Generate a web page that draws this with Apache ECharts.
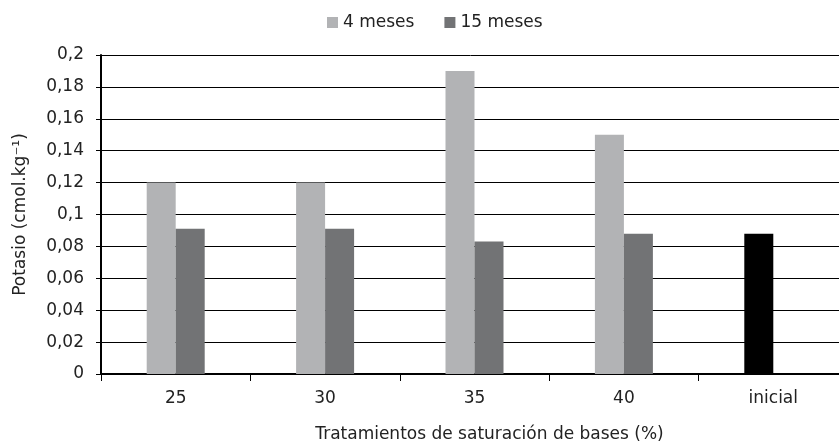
<!DOCTYPE html>
<html><head><meta charset="utf-8">
<script src="https://cdn.jsdelivr.net/npm/echarts@6/dist/echarts.min.js"></script>
<style>html,body{margin:0;padding:0;background:#fff}#c{width:839px;height:446px}</style>
</head><body><div id="c"></div>
<script>
var categories = ['25', '30', '35', '40', 'inicial'];
var meses4 = [0.12, 0.12, 0.19, 0.15, 0.088];
var meses15 = [0.091, 0.091, 0.083, 0.088, null];
var yTicks = [0, 0.02, 0.04, 0.06, 0.08, 0.1, 0.12, 0.14, 0.16, 0.18, 0.2];
var inicialIndex = 4;

var FONT = 'DejaVu Sans';
var chart = echarts.init(document.getElementById('c'), null, {renderer: 'canvas'});
chart.setOption({
  animation: false,
  textStyle: {fontFamily: FONT},
  legend: {
    left: 322, top: 9, itemWidth: 11, itemHeight: 11, itemGap: 30,
    textStyle: {fontSize: 17, color: '#222', fontFamily: FONT},
    data: [{name: '4 meses', icon: 'rect'}, {name: '15 meses', icon: 'rect'}]
  },
  grid: {left: 101, top: 55, width: 747, bottom: 72, containLabel: false, outerBoundsMode: 'none'},
  xAxis: {
    type: 'category', data: categories,
    axisLine: {lineStyle: {color: '#000', width: 2}},
    axisTick: {show: true, length: 7, lineStyle: {color: '#000', width: 1}},
    axisLabel: {fontSize: 17, color: '#222', margin: 16, fontFamily: FONT},
    name: 'Tratamientos de saturación de bases (%)',
    nameLocation: 'middle', nameGap: 52,
    nameTextStyle: {fontSize: 17, color: '#222', fontFamily: FONT, padding: [0, 0, 0, 30]}
  },
  yAxis: {
    type: 'value', min: 0, max: 0.2, interval: 0.02,
    axisLine: {show: true, lineStyle: {color: '#000', width: 2}},
    axisTick: {show: true, length: 5, lineStyle: {color: '#000', width: 1}},
    splitLine: {lineStyle: {color: '#000', width: 1}},
    axisLabel: {fontSize: 17, color: '#222', margin: 17, fontFamily: FONT,
      formatter: function (v) {
        var t = yTicks.find(function (x) { return Math.abs(x - v) < 1e-9; });
        return String(+(t !== undefined ? t : v).toFixed(2)).replace('.', ',');
      }},
    name: 'Potasio (cmol.kg⁻¹)', nameLocation: 'middle', nameGap: 72,
    nameTextStyle: {fontSize: 17, color: '#222', fontFamily: FONT}
  },
  series: [
    {name: '4 meses', type: 'bar', barWidth: 29, barGap: '0%',
      itemStyle: {color: '#b2b3b5'},
      data: meses4.map(function (v, i) {
        return i === inicialIndex ? {value: v, itemStyle: {color: '#000'}} : v;
      })},
    {name: '15 meses', type: 'bar', barWidth: 29, barGap: '0%',
      itemStyle: {color: '#727375'}, data: meses15}
  ]
});
</script></body></html>
